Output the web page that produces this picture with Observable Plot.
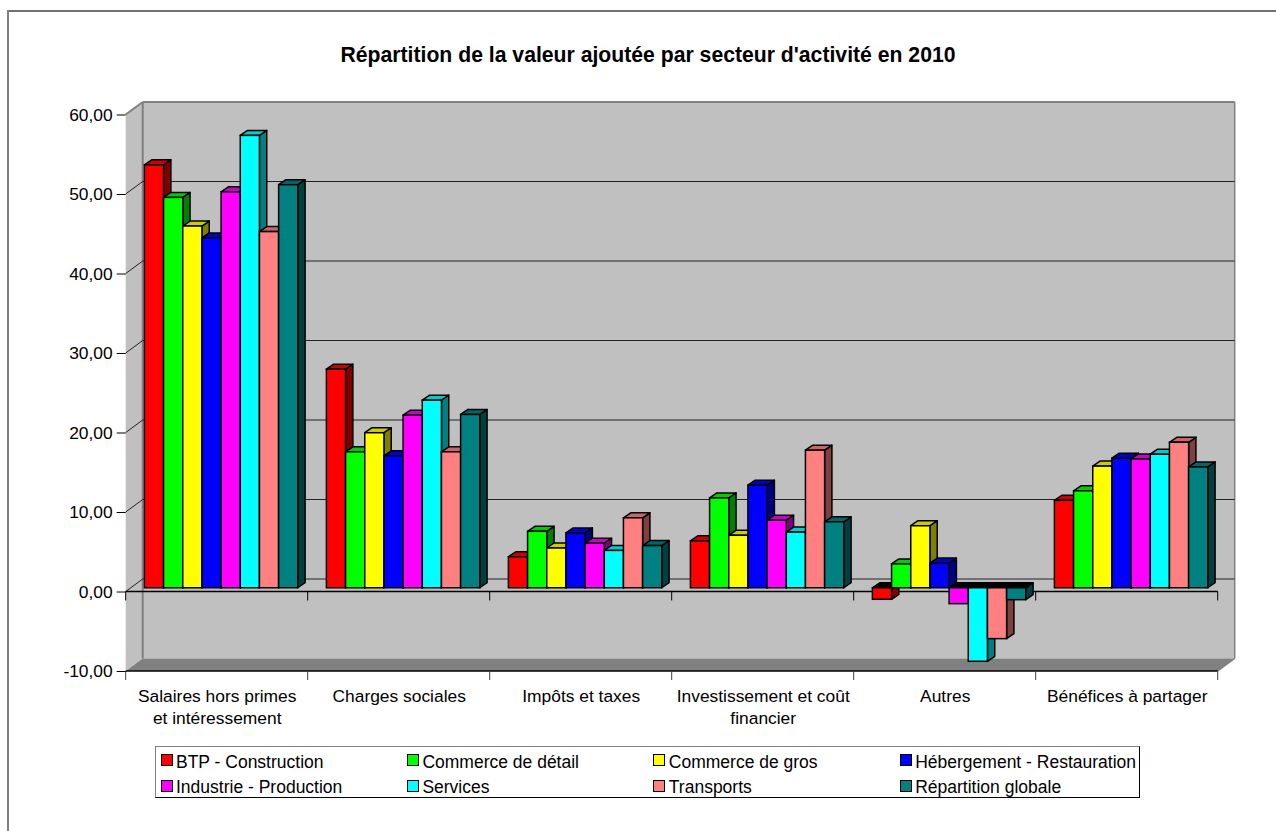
<!DOCTYPE html>
<html lang="fr">
<head>
<meta charset="utf-8">
<script src="https://cdn.jsdelivr.net/npm/d3@7"></script>
<script src="https://cdn.jsdelivr.net/npm/@observablehq/plot@0.6"></script>
<style>
  html,body{margin:0;padding:0;background:#fff;}
  #page{position:relative;width:1276px;height:831px;overflow:hidden;font-family:"Liberation Sans",Arial,sans-serif;color:#000;}
  #edgeTop{position:absolute;left:7px;top:10px;right:0;height:1.5px;background:#707070;}
  #edgeLeft{position:absolute;left:6.5px;top:10px;bottom:0;width:2px;background:#808080;}
  #title{position:absolute;left:0;width:1296px;top:45px;text-align:center;font-weight:bold;font-size:21.2px;line-height:20px;white-space:nowrap;}
  #chart{position:absolute;left:0;top:0;}
  #legend{position:absolute;left:155px;top:745.5px;width:985px;height:52px;box-sizing:border-box;border:1px solid #000;border-top:1.5px solid #808080;border-left:1px solid #808080;}
  .item{position:absolute;font-size:17.5px;line-height:20px;white-space:nowrap;padding-left:20px;}
  .sw{position:absolute;left:4.5px;top:2.5px;width:10px;height:10px;border:1.3px solid #000;}
</style>
</head>
<body>
<div id="page">
  <div id="edgeTop"></div><div id="edgeLeft"></div>
  <div id="chart"></div>
  <div id="title">Répartition de la valeur ajoutée par secteur d'activité en 2010</div>
  <div id="legend"></div>
</div>
<script>
const categories = ["Salaires hors primes\net intéressement","Charges sociales","Impôts et taxes","Investissement et coût\nfinancier","Autres","Bénéfices à partager"];
const seriesNames = ["BTP - Construction","Commerce de détail","Commerce de gros","Hébergement - Restauration","Industrie - Production","Services","Transports","Répartition globale"];
const seriesColors = ["#ff0000","#00ff00","#ffff00","#0000ff","#ff00ff","#00ffff","#ff8080","#008080"];
const btp        = [53.2, 27.5, 3.9,  5.9,  -1.45, 11.0];
const detail     = [49.1, 17.1, 7.1,  11.3,  3.0,  12.2];
const gros       = [45.5, 19.5, 5.0,  6.6,   7.8,  15.3];
const hebergement= [44.0, 16.6, 6.9,  12.9,  3.1,  16.3];
const industrie  = [49.8, 21.7, 5.6,  8.5,  -2.0,  16.2];
const services   = [56.9, 23.6, 4.7,  7.0,  -9.25, 16.8];
const transports = [44.8, 17.1, 8.8,  17.3, -6.4,  18.3];
const globale    = [50.7, 21.8, 5.3,  8.3,  -1.5,  15.2];
const yTicks = [-10,0,10,20,30,40,50,60];
const seriesValues = [btp,detail,gros,hebergement,industrie,services,transports,globale];
const rows = seriesNames.flatMap((s,i)=>categories.map((c,j)=>({category:c,series:s,value:seriesValues[i][j]})));

const depth = {x:17, y:-12.5};      // depth of the chart box
const barDepth = {x:7.3, y:-5};     // depth of a bar
const barShift = {x:4.4, y:-3.75};  // position of the bar row inside the box
const fmt = d => d3.format(".2f")(d).replace(".",",").replace("\u2212","-");

function poly(g, pts, fill){
  g.append("polygon").attr("points",pts.map(p=>p.join(",")).join(" ")).attr("fill",fill).attr("stroke","none");
}
function seg(g,x1,y1,x2,y2,stroke,sw){
  g.append("line").attr("x1",x1).attr("y1",y1).attr("x2",x2).attr("y2",y2).attr("stroke",stroke).attr("stroke-width",sw||1);
}
// Back wall, side wall, floor, grid and category ticks, all from the y scale and the frame.
function box(index,scales,values,dim){
  const g = d3.create("svg:g");
  const L = dim.marginLeft, R = dim.width-dim.marginRight, T = scales.y(60), B = scales.y(-10);
  const dx = depth.x, dy = depth.y;
  poly(g,[[L+dx,T+dy],[R+dx,T+dy],[R+dx,B+dy],[L+dx,B+dy]],"#c0c0c0");
  poly(g,[[L,T],[L+dx,T+dy],[L+dx,B+dy],[L,B]],"#c0c0c0");
  poly(g,[[L,B],[L+dx,B+dy],[R+dx,B+dy],[R,B]],"#808080");
  seg(g,L+dx,T+dy,R+dx,T+dy,"#808080",2);
  seg(g,L+dx,T+dy,L+dx,B+dy,"#808080",2);
  seg(g,R+dx,T+dy,R+dx,B+dy,"#808080",1.5);
  seg(g,R,B,R+dx,B+dy,"#808080",1.5);
  seg(g,L,T,L+dx,T+dy,"#808080",2);
  for(const v of yTicks) if(v>-10 && v<60){
    const y=scales.y(v);
    seg(g,L,y,L+dx,y+dy,"#222",1);
    seg(g,L+dx,y+dy,R+dx,y+dy,"#222",1);
  }
  const step = (R-L)/categories.length;
  seg(g,L,scales.y(0),R,scales.y(0),"#000",1.3);
  seg(g,L,B,R,B,"#000",1.3);
  for(let k=0;k<=categories.length;k++){
    const x=L+k*step;
    seg(g,x,scales.y(0),x,scales.y(0)+9,"#000",1);
    seg(g,x,B,x,B+9,"#404040",1);
  }
  return g.node();
}
// Gives each bar its side and top faces, keeping drawing order left to right.
function bars3d(index,scales,values,dim,context,next){
  const node = next(index,scales,values,dim,context);
  const y0 = scales.y(0);
  const {x:ddx,y:ddy} = barDepth;
  node.querySelectorAll("rect").forEach(r=>{
    const x=+r.getAttribute("x"), y=+r.getAttribute("y"), w=+r.getAttribute("width"), h=+r.getAttribute("height");
    const c=d3.rgb(r.getAttribute("fill"));
    const neg = y+h>y0+0.01;
    const scale=k=>d3.rgb(c.r*k,c.g*k,c.b*k).formatHex();
    const mk=(pts,fill)=>{
      const p=document.createElementNS("http://www.w3.org/2000/svg","polygon");
      p.setAttribute("points",pts.map(q=>q.join(",")).join(" "));
      p.setAttribute("fill",fill);
      p.setAttribute("stroke","#000");
      p.setAttribute("stroke-width","1.5");
      p.setAttribute("stroke-linejoin","round");
      node.insertBefore(p,r);
    };
    mk([[x+w,y],[x+w+ddx,y+ddy],[x+w+ddx,y+h+ddy],[x+w,y+h]],scale(.5));
    mk([[x,y],[x+ddx,y+ddy],[x+w+ddx,y+ddy],[x+w,y]],neg?"#000":scale(.8));
  });
  return node;
}

const chart = Plot.plot({
  width:1276, height:831,
  marginLeft:125.7, marginRight:58.3, marginTop:114.5, marginBottom:160,
  style:{fontFamily:"'Liberation Sans',Arial,sans-serif",fontSize:"17.4px",color:"#000",background:"transparent",overflow:"visible"},
  fx:{domain:categories,padding:0,round:false,label:null},
  x:{domain:seriesNames,paddingInner:0,paddingOuter:0.746,round:false,axis:null},
  y:{domain:[-10,60],label:null,round:false},
  color:{domain:seriesNames,range:seriesColors},
  marks:[
    Plot.frame({facet:"super",render:box}),
    Plot.axisY({ticks:yTicks,tickFormat:fmt,tickSize:9,tickPadding:4.5,label:null,stroke:"#000",strokeOpacity:1,fill:"#000",fontSize:17.4}),
    Plot.axisFx({anchor:"bottom",tickSize:0,tickPadding:16,label:null,lineHeight:1.21,fill:"#000",fontSize:17.4}),
    Plot.barY(rows,{fx:"category",x:"series",y:"value",fill:"series",stroke:"#000",strokeWidth:1.5,
      dx:barShift.x,dy:barShift.y,render:bars3d})
  ]
});
document.getElementById("chart").appendChild(chart);

const legend=document.getElementById("legend");
seriesNames.forEach((name,i)=>{
  const el=document.createElement("div");
  el.className="item";
  el.style.left=(i%4)*246.4+"px";
  el.style.top=(5+Math.floor(i/4)*25.5)+"px";
  el.textContent=name;
  const sw=document.createElement("span");
  sw.className="sw";
  sw.style.background=seriesColors[i];
  el.appendChild(sw);
  legend.appendChild(el);
});
</script>
</body>
</html>
